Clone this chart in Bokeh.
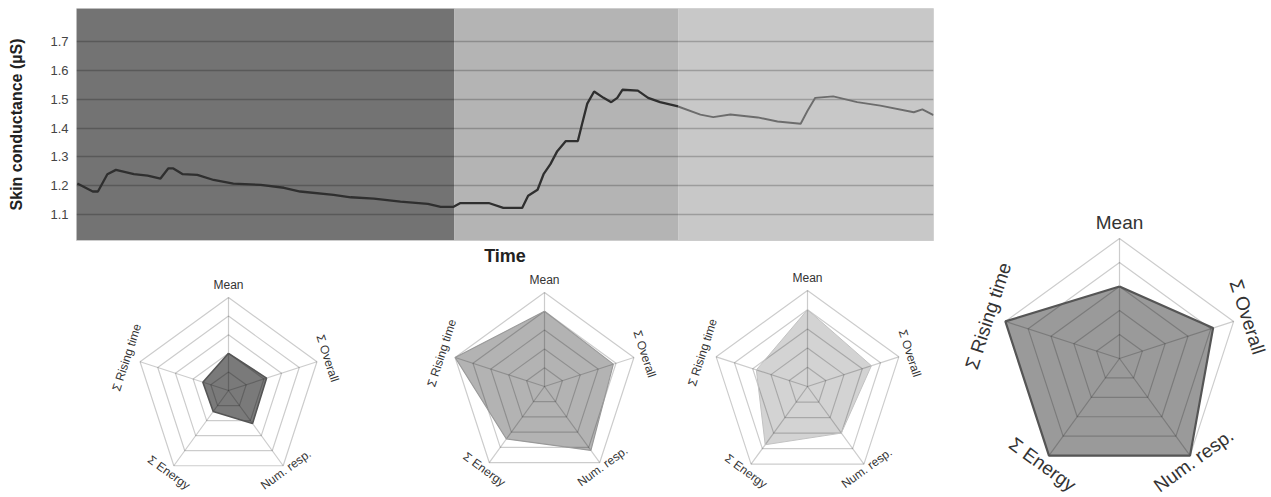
import numpy as np
from bokeh.plotting import figure
from bokeh.layouts import row, column
from bokeh.models import Range1d, FixedTicker, BoxAnnotation, ColumnDataSource
from bokeh.core.properties import value
from bokeh.embed import file_html
from bokeh.resources import INLINE

# ---------------- data ----------------
# skin conductance trace (time in % of session)
time_a = [0.1, 1.9, 2.5, 3.6, 4.6, 6.7, 8.3, 9.8, 10.7, 11.3, 12.4, 14.1, 16.0, 18.3, 21.5,
          24.2, 26.1, 30.0, 32.0, 34.7, 37.8, 41.0, 42.5, 44.0, 44.8, 48.1, 49.8, 52.0, 52.7,
          53.8, 54.5, 55.3, 56.1, 57.1, 58.5, 59.0, 59.6, 60.4, 61.5, 62.4, 63.1, 63.7, 65.5,
          66.7, 68.1, 70.2]
sc_a = [1.208, 1.18, 1.18, 1.24, 1.255, 1.24, 1.235, 1.225, 1.26, 1.26, 1.24, 1.238, 1.22,
        1.207, 1.203, 1.193, 1.18, 1.168, 1.16, 1.155, 1.145, 1.137, 1.127, 1.127, 1.14, 1.14,
        1.123, 1.123, 1.165, 1.186, 1.24, 1.275, 1.32, 1.355, 1.355, 1.415, 1.485, 1.527,
        1.505, 1.49, 1.505, 1.533, 1.53, 1.505, 1.49, 1.475]
time_b = [70.2, 72.8, 74.3, 76.3, 79.5, 81.8, 84.5, 85.3, 86.2, 88.3, 91.1, 93.8, 97.7, 98.7, 100.0]
sc_b = [1.475, 1.447, 1.438, 1.447, 1.437, 1.423, 1.415, 1.46, 1.505, 1.51, 1.49, 1.478,
        1.455, 1.465, 1.445]
phase_edges = [0.0, 44.1, 70.2, 100.0]
phase_colors = ["#737373", "#b4b4b4", "#c8c8c8"]
y_ticks = [1.1, 1.2, 1.3, 1.4, 1.5, 1.6, 1.7]

radar_axes = ["Mean", "Σ Overall", "Num. resp.", "Σ Energy", "Σ Rising time"]
phase1 = [0.40, 0.43, 0.44, 0.28, 0.29]
phase2 = [0.80, 0.77, 0.84, 0.69, 1.00]
phase3 = [0.80, 0.70, 0.60, 0.75, 0.56]
overall = [0.60, 0.82, 1.00, 1.00, 1.00]
ring_levels = [0.2, 0.4, 0.6, 0.8, 1.0]

FONT = "Liberation Sans"

# ---------------- top time series ----------------
p = figure(width=948, height=268, x_range=Range1d(0, 100), y_range=Range1d(1.01, 1.815),
           output_backend="svg", toolbar_location=None,
           min_border_left=76, min_border_right=15, min_border_top=8, min_border_bottom=28)
p.outline_line_color = "#d6d6d6"
for i, c in enumerate(phase_colors):
    p.add_layout(BoxAnnotation(left=phase_edges[i], right=phase_edges[i + 1], fill_color=c,
                               fill_alpha=1.0, line_color=None, level="image"))
p.line(time_a, sc_a, line_color="#2f2f2f", line_width=2.3)
p.line(time_b, sc_b, line_color="#6c6c6c", line_width=1.9)

p.yaxis.ticker = FixedTicker(ticks=y_ticks)
p.yaxis.axis_label = "Skin conductance (µS)"
p.yaxis.axis_label_text_font = FONT
p.yaxis.axis_label_text_font_style = "bold"
p.yaxis.axis_label_text_font_size = "16px"
p.yaxis.axis_label_text_color = "#222222"
p.yaxis.axis_label_standoff = 22
p.yaxis.major_label_text_font = FONT
p.yaxis.major_label_text_font_size = "13px"
p.yaxis.major_label_text_color = "#444444"
p.yaxis.major_label_standoff = 8
p.yaxis.major_tick_out = 0
p.yaxis.major_tick_in = 0
p.yaxis.major_tick_line_color = None
p.yaxis.minor_tick_line_color = None
p.yaxis.axis_line_color = None

p.xaxis.ticker = FixedTicker(ticks=[])
p.xaxis.axis_label = "Time"
p.xaxis.axis_label_text_font = FONT
p.xaxis.axis_label_text_font_style = "bold"
p.xaxis.axis_label_text_font_size = "18px"
p.xaxis.axis_label_text_color = "#222222"
p.xaxis.axis_label_standoff = 5
p.xaxis.major_tick_out = 0
p.xaxis.major_tick_line_color = None
p.xaxis.minor_tick_line_color = None
p.xaxis.axis_line_color = "#cccccc"

p.xgrid.grid_line_color = None
p.ygrid.grid_line_color = "black"
p.ygrid.grid_line_alpha = 0.22
p.ygrid.grid_line_width = 1.5

# label distance from radar centre, per axis (in radius units)
label_dist = [1.13, 1.12, 1.05, 1.09, 1.15]


# ---------------- radar charts ----------------
def make_radar(vals, fill, edge, edge_w, width, height, cx, cy, scale, font_px):
    r = figure(width=width, height=height, output_backend="svg", toolbar_location=None,
               x_range=Range1d(-cx / scale, (width - cx) / scale),
               y_range=Range1d(-(height - cy) / scale, cy / scale),
               x_axis_location=None, y_axis_location=None, min_border=0)
    r.grid.visible = False
    r.outline_line_color = None
    n = len(radar_axes)
    ang = np.radians(90 - 72 * np.arange(n))
    cs, sn = np.cos(ang), np.sin(ang)
    cs_c, sn_c = np.append(cs, cs[0]), np.append(sn, sn[0])
    v = np.array(vals, dtype=float)
    v_c = np.append(v, v[0])
    r.patch(list(v * cs), list(v * sn), fill_color=fill, fill_alpha=1.0, line_color=None)
    xs, ys = [], []
    for lv in ring_levels:
        xs.append(list(lv * cs_c))
        ys.append(list(lv * sn_c))
    for k in range(n):
        xs.append([0.0, float(cs[k])])
        ys.append([0.0, float(sn[k])])
    r.multi_line(xs, ys, line_color="black", line_alpha=0.2, line_width=1.2)
    r.line(list(v_c * cs_c), list(v_c * sn_c), line_color=edge, line_width=edge_w)
    text_ang = [0.0, float(np.radians(-72)), float(np.radians(36)),
                float(np.radians(-36)), float(np.radians(72))]
    ld = np.array(label_dist)
    src = ColumnDataSource(dict(x=list(ld * cs), y=list(ld * sn),
                                t=radar_axes, a=text_ang))
    r.text(x="x", y="y", text="t", angle="a", source=src, text_align="center",
           text_baseline="middle", text_color="#333333", text_font=value(FONT),
           text_font_size=value(font_px))
    return r


r1 = make_radar(phase1, "#7a7a7a", "#555555", 1.6, 387, 229, 228, 122, 93, "12px")
r2 = make_radar(phase2, "#b3b3b3", "#999999", 1.2, 289, 229, 157, 118, 94, "12px")
r3 = make_radar(phase3, "#d3d3d3", "#c2c2c2", 1.0, 272, 229, 131, 118, 96, "12px")
r4 = make_radar(overall, "#9a9a9a", "#555555", 2.2, 323, 497, 171, 358, 120, "19px")

layout = row(column(p, row(r1, r2, r3)), r4)
open("out.html", "w").write(file_html(layout, INLINE))
